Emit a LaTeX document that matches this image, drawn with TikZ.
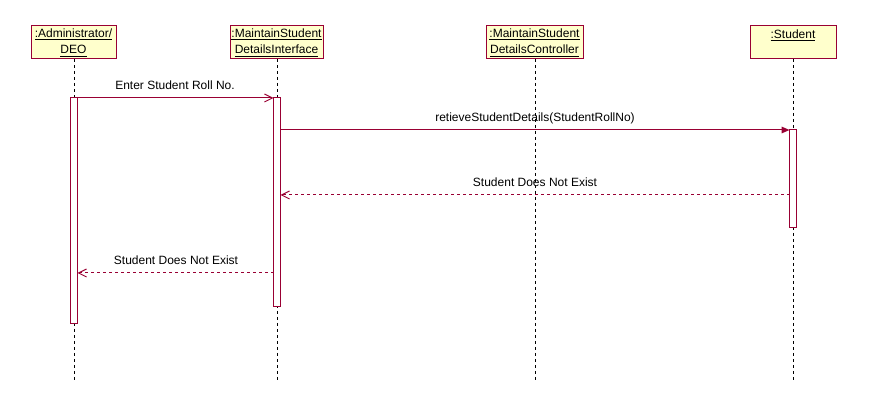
\documentclass[tikz,border=0pt]{standalone}
\usepackage{fontspec}
\setmainfont{Liberation Sans}
\usetikzlibrary{arrows.meta}
\definecolor{umlline}{HTML}{990033}
\definecolor{umlfill}{HTML}{FFFFCC}
\begin{document}
\begin{tikzpicture}[x=0.75pt,y=-0.75pt,
  font=\fontsize{9}{11.25}\selectfont,
  objbox/.style={draw=umlline,fill=umlfill,line width=0.75pt,minimum height=24.75pt,align=center,inner sep=0pt,
    font=\fontsize{9}{11.5}\selectfont},
  lifeline/.style={draw=black,line width=0.75pt,dash pattern=on 2.25pt off 2.25pt},
  actbox/.style={draw=umlline,fill=white,line width=0.75pt},
  callmsg/.style={draw=umlline,line width=0.75pt,-{Triangle[length=6pt,width=5pt]}},
  asyncmsg/.style={draw=umlline,line width=0.75pt,-{Straight Barb[length=6pt,width=6pt]}},
  returnmsg/.style={draw=umlline,line width=0.75pt,dash pattern=on 2.25pt off 2.25pt,-{Straight Barb[length=6pt,width=6pt]}},
  msglabel/.style={inner sep=0pt,anchor=base}]
\useasboundingbox (0,0) rectangle (875,409);

% object boxes
\node[objbox,minimum width=63.75pt] (admin) at (73.5,42.5) {\underline{:Administrator/}\\[1pt]\underline{DEO}};
\node[objbox,minimum width=69.75pt] (iface) at (276.5,42.5) {\underline{:MaintainStudent}\\[1pt]\underline{DetailsInterface}};
\node[objbox,minimum width=72.75pt] (ctrl) at (534.5,42.5) {\underline{:MaintainStudent}\\[1pt]\underline{DetailsController}};
\node[objbox,minimum width=64.5pt] (stud) at (793,42.5) {\underline{:Student}\\[1pt]\mbox{}};

% lifeline ends
\coordinate (adminEnd) at (74,381);
\coordinate (ifaceEnd) at (277,381);
\coordinate (ctrlEnd) at (535,381);
\coordinate (studEnd) at (793,381);

% lifelines
\draw[lifeline] (74,59) -- (adminEnd);
\draw[lifeline] (277,59) -- (ifaceEnd);
\draw[lifeline] (535,59) -- (ctrlEnd);
\draw[lifeline] (793,59) -- (studEnd);

% activation bars
\draw[actbox] (70.5,98) rectangle (77.5,324);
\draw[actbox] (273.5,98) rectangle (280.5,307);
\draw[actbox] (789.5,130) rectangle (796.5,228);

\coordinate (a1) at (77.5,98);
\coordinate (b1) at (273.5,98);
\coordinate (b2) at (280.5,130);
\coordinate (d2) at (789.5,130);
\coordinate (d3) at (789.5,195);
\coordinate (b3) at (280.5,195);
\coordinate (b4) at (273.5,273);
\coordinate (a4) at (77.5,273);

% messages
\draw[asyncmsg] (a1) -- (b1);
\node[msglabel] (m1) at (175,90) {Enter Student Roll No.};
\draw[callmsg] (b2) -- (d2);
\node[msglabel] (m2) at (535,122) {retieveStudentDetails(StudentRollNo)};
\draw[returnmsg] (d3) -- (b3);
\node[msglabel] (m3) at (535,187) {Student Does Not Exist};
\draw[returnmsg] (b4) -- (a4);
\node[msglabel] (m4) at (176,265) {Student Does Not Exist};
\end{tikzpicture}
\end{document}
